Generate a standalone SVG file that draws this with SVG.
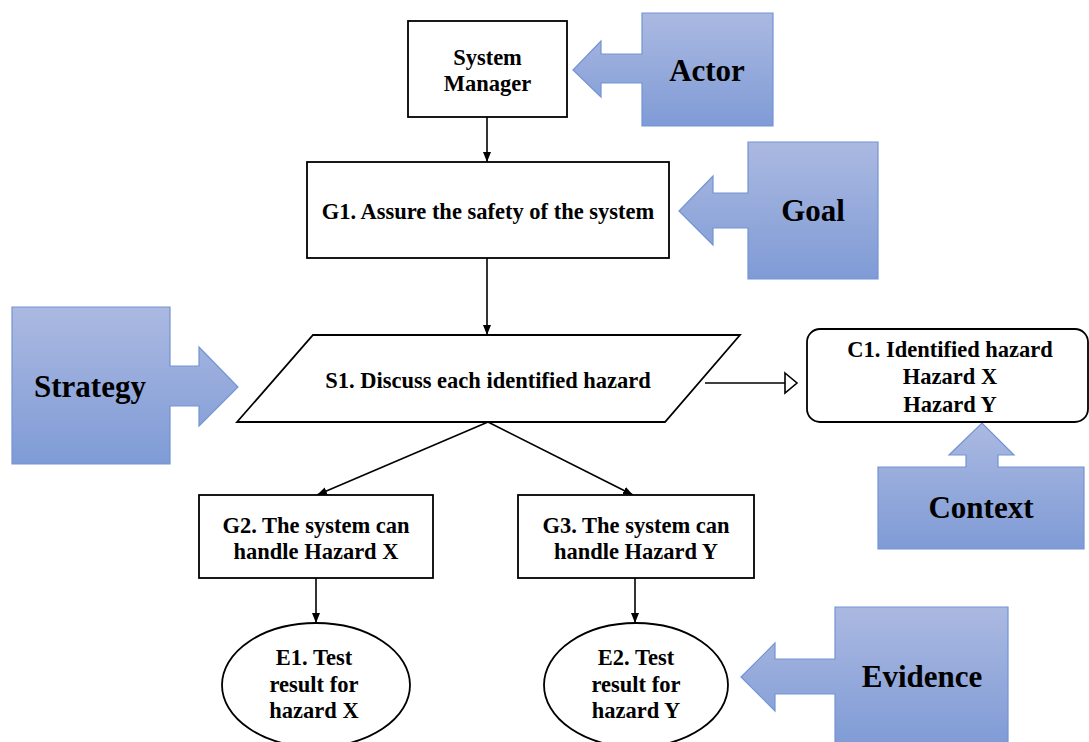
<svg xmlns="http://www.w3.org/2000/svg" width="1089" height="742" viewBox="0 0 1089 742">
  <style>
    .box { fill: #ffffff; stroke: #000000; stroke-width: 1.8; }
    .lbl { font-family: "Liberation Serif", "Times New Roman", serif; font-weight: bold; font-size: 22.5px; fill: #000000; text-anchor: middle; }
    .tag { font-family: "Liberation Serif", "Times New Roman", serif; font-weight: bold; font-size: 31px; fill: #000000; text-anchor: middle; }
    .callout { fill: url(#blueGrad); stroke: #7394d3; stroke-width: 1.2; }
    .link { fill: none; stroke: #000000; stroke-width: 1.6; }
  </style>
  <defs>
    <linearGradient id="blueGrad" x1="0" y1="0" x2="0" y2="1">
      <stop offset="0" stop-color="#abb9e1"/>
      <stop offset="1" stop-color="#7f9bd6"/>
    </linearGradient>
    <marker id="arrowSolid" viewBox="0 0 10 10" refX="10" refY="5" markerWidth="10" markerHeight="10" markerUnits="userSpaceOnUse" orient="auto">
      <path d="M0,1 L10,5 L0,9 Z" fill="#000000"/>
    </marker>
  </defs>

  <!-- Labelled block arrows pointing at each element type -->
  <g id="tag-actor">
    <path class="callout" d="M642,13 H773 V126 H642 V83 H601 V97 L573,70 L601,41 V54 H642 Z"/>
    <text class="tag" x="707" y="81">Actor</text>
  </g>
  <g id="tag-goal">
    <path class="callout" d="M748,142 H878 V279 H748 V228 H713 V245 L679,211 L713,176 V193 H748 Z"/>
    <text class="tag" x="813" y="221">Goal</text>
  </g>
  <g id="tag-strategy">
    <path class="callout" d="M12,307 H170 V366 H199 V347 L238,387 L199,426 V406 H170 V464 H12 Z"/>
    <text class="tag" x="90" y="397">Strategy</text>
  </g>
  <g id="tag-context">
    <path class="callout" d="M878,467 H966 V455 H949 L982,423 L1014,455 H998 V467 H1084 V549 H878 Z"/>
    <text class="tag" x="981" y="518">Context</text>
  </g>
  <g id="tag-evidence">
    <path class="callout" d="M835,607 H1008 V746 H835 V694 H775 V711 L741,677 L775,643 V659 H835 Z"/>
    <text class="tag" x="922" y="687">Evidence</text>
  </g>

  <!-- Connectors -->
  <g id="connectors">
    <line class="link" x1="487" y1="117" x2="487" y2="162" marker-end="url(#arrowSolid)"/>
    <line class="link" x1="487" y1="258" x2="487" y2="335" marker-end="url(#arrowSolid)"/>
    <line class="link" x1="488" y1="422" x2="317" y2="495" marker-end="url(#arrowSolid)"/>
    <line class="link" x1="488" y1="422" x2="633" y2="495" marker-end="url(#arrowSolid)"/>
    <line class="link" x1="316" y1="578" x2="316" y2="623" marker-end="url(#arrowSolid)"/>
    <line class="link" x1="635" y1="578" x2="635" y2="623" marker-end="url(#arrowSolid)"/>
    <line class="link" x1="705" y1="383" x2="785" y2="383"/>
    <polygon points="785,373 797,383 785,393" fill="#ffffff" stroke="#000000" stroke-width="1.6"/>
  </g>

  <!-- Nodes -->
  <g id="actor-system-manager">
    <rect class="box" x="408" y="21" width="159" height="96"/>
    <text class="lbl" x="487.5" y="65">System</text>
    <text class="lbl" x="487.5" y="91">Manager</text>
  </g>
  <g id="goal-g1">
    <rect class="box" x="307" y="162" width="362" height="96"/>
    <text class="lbl" x="488" y="219">G1. Assure the safety of the system</text>
  </g>
  <g id="strategy-s1">
    <polygon class="box" points="313,335 740,335 665,422 237,422"/>
    <text class="lbl" x="488" y="388">S1. Discuss each identified hazard</text>
  </g>
  <g id="context-c1">
    <rect class="box" x="807" y="329" width="281" height="93" rx="13" ry="13"/>
    <text class="lbl" x="950" y="357">C1. Identified hazard</text>
    <text class="lbl" x="950" y="384">Hazard X</text>
    <text class="lbl" x="950" y="412">Hazard Y</text>
  </g>
  <g id="goal-g2">
    <rect class="box" x="199" y="495" width="234" height="83"/>
    <text class="lbl" x="316" y="533">G2. The system can</text>
    <text class="lbl" x="316" y="559">handle Hazard X</text>
  </g>
  <g id="goal-g3">
    <rect class="box" x="518" y="495" width="236" height="83"/>
    <text class="lbl" x="636" y="533">G3. The system can</text>
    <text class="lbl" x="636" y="559">handle Hazard Y</text>
  </g>
  <g id="evidence-e1">
    <ellipse class="box" cx="316" cy="685" rx="94" ry="62"/>
    <text class="lbl" x="314" y="665">E1. Test</text>
    <text class="lbl" x="314" y="692">result for</text>
    <text class="lbl" x="314" y="718">hazard X</text>
  </g>
  <g id="evidence-e2">
    <ellipse class="box" cx="636" cy="685" rx="92" ry="62"/>
    <text class="lbl" x="636" y="665">E2. Test</text>
    <text class="lbl" x="636" y="692">result for</text>
    <text class="lbl" x="636" y="718">hazard Y</text>
  </g>
</svg>
